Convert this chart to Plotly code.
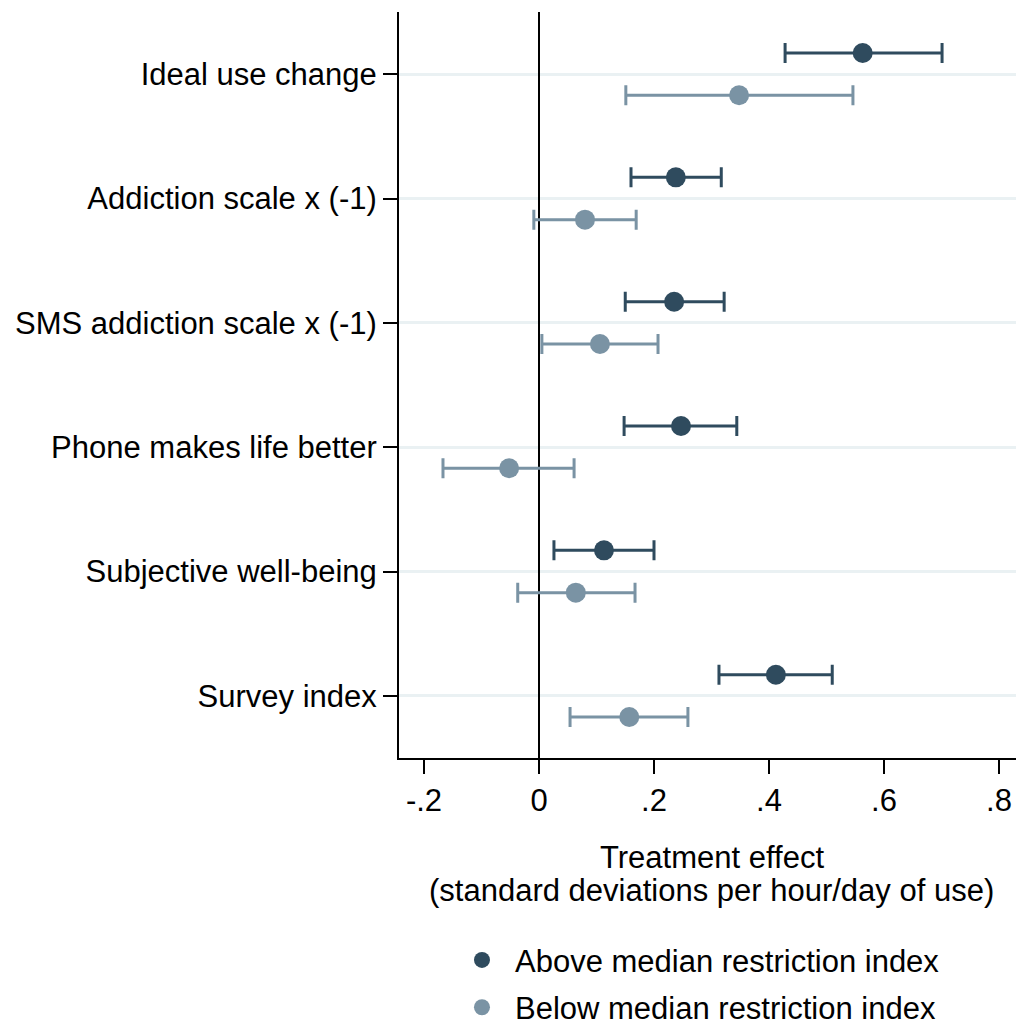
import plotly.graph_objects as go

categories = ["Survey index", "Subjective well-being", "Phone makes life better",
              "SMS addiction scale x (-1)", "Addiction scale x (-1)", "Ideal use change"]

above_pt = [0.412, 0.113, 0.247, 0.235, 0.238, 0.563]
above_lo = [0.313, 0.026, 0.148, 0.150, 0.160, 0.428]
above_hi = [0.510, 0.200, 0.344, 0.322, 0.317, 0.701]

below_pt = [0.157, 0.064, -0.052, 0.106, 0.080, 0.348]
below_lo = [0.054, -0.037, -0.167, 0.005, -0.009, 0.151]
below_hi = [0.259, 0.167, 0.061, 0.207, 0.169, 0.546]

x_ticks = [-0.2, 0, 0.2, 0.4, 0.6, 0.8]
x_ticklabels = ["-.2", "0", ".2", ".4", ".6", ".8"]

series_names = ["Above median restriction index", "Below median restriction index"]
x_title_lines = ["Treatment effect", "(standard deviations per hour/day of use)"]

DARK = "#2f4b5e"
LIGHT = "#7a93a4"
GRID = "#eaf1f3"
FONT = "Liberation Sans, Arial, sans-serif"
FS = 31
OFFSET = 0.17

pos = list(range(1, len(categories) + 1))

fig = go.Figure()
for name, pts, lo, hi, color, sign in [
    (series_names[0], above_pt, above_lo, above_hi, DARK, 1),
    (series_names[1], below_pt, below_lo, below_hi, LIGHT, -1),
]:
    fig.add_trace(go.Scatter(
        x=pts,
        y=[p + sign * OFFSET for p in pos],
        mode="markers",
        name=name,
        legendgroup=name,
        marker=dict(color=color, size=20, line=dict(width=0)),
        error_x=dict(type="data", symmetric=False,
                     array=[h - p for h, p in zip(hi, pts)],
                     arrayminus=[p - l for p, l in zip(pts, lo)],
                     color=color, thickness=3, width=10),
    ))

for line, yy in zip(x_title_lines, [-0.134, -0.177]):
    fig.add_annotation(text=line, xref="paper", yref="paper", x=0.5065, y=yy,
                       xanchor="center", yanchor="middle", showarrow=False,
                       font=dict(family=FONT, size=FS, color="black"))

fig.update_layout(
    width=1016, height=1026,
    margin=dict(l=399, r=0, t=12, b=268, autoexpand=False),
    paper_bgcolor="white", plot_bgcolor="white",
    font=dict(family=FONT, size=FS, color="black"),
    showlegend=True,
    legend=dict(x=0.081, y=-0.235, xanchor="left", yanchor="top",
                traceorder="grouped", tracegroupgap=4,
                font=dict(family=FONT, size=FS, color="black"),
                bgcolor="rgba(0,0,0,0)", itemwidth=56),
    xaxis=dict(range=[-0.2435, 0.8296], tickmode="array", tickvals=x_ticks,
               ticktext=x_ticklabels, showgrid=False,
               zeroline=True, zerolinecolor="black", zerolinewidth=2,
               showline=True, linecolor="black", linewidth=2,
               ticks="outside", ticklen=14, tickwidth=2, tickcolor="black"),
    yaxis=dict(range=[0.5, 6.5], tickmode="array", tickvals=pos, ticktext=categories,
               showgrid=True, gridcolor=GRID, gridwidth=3, zeroline=False,
               showline=True, linecolor="black", linewidth=2,
               ticks="outside", ticklen=14, tickwidth=2, tickcolor="black"),
)

fig.write_html("out.html", config={"displayModeBar": False},
               post_script="document.body.style.margin='0';document.body.style.overflow='hidden';")
